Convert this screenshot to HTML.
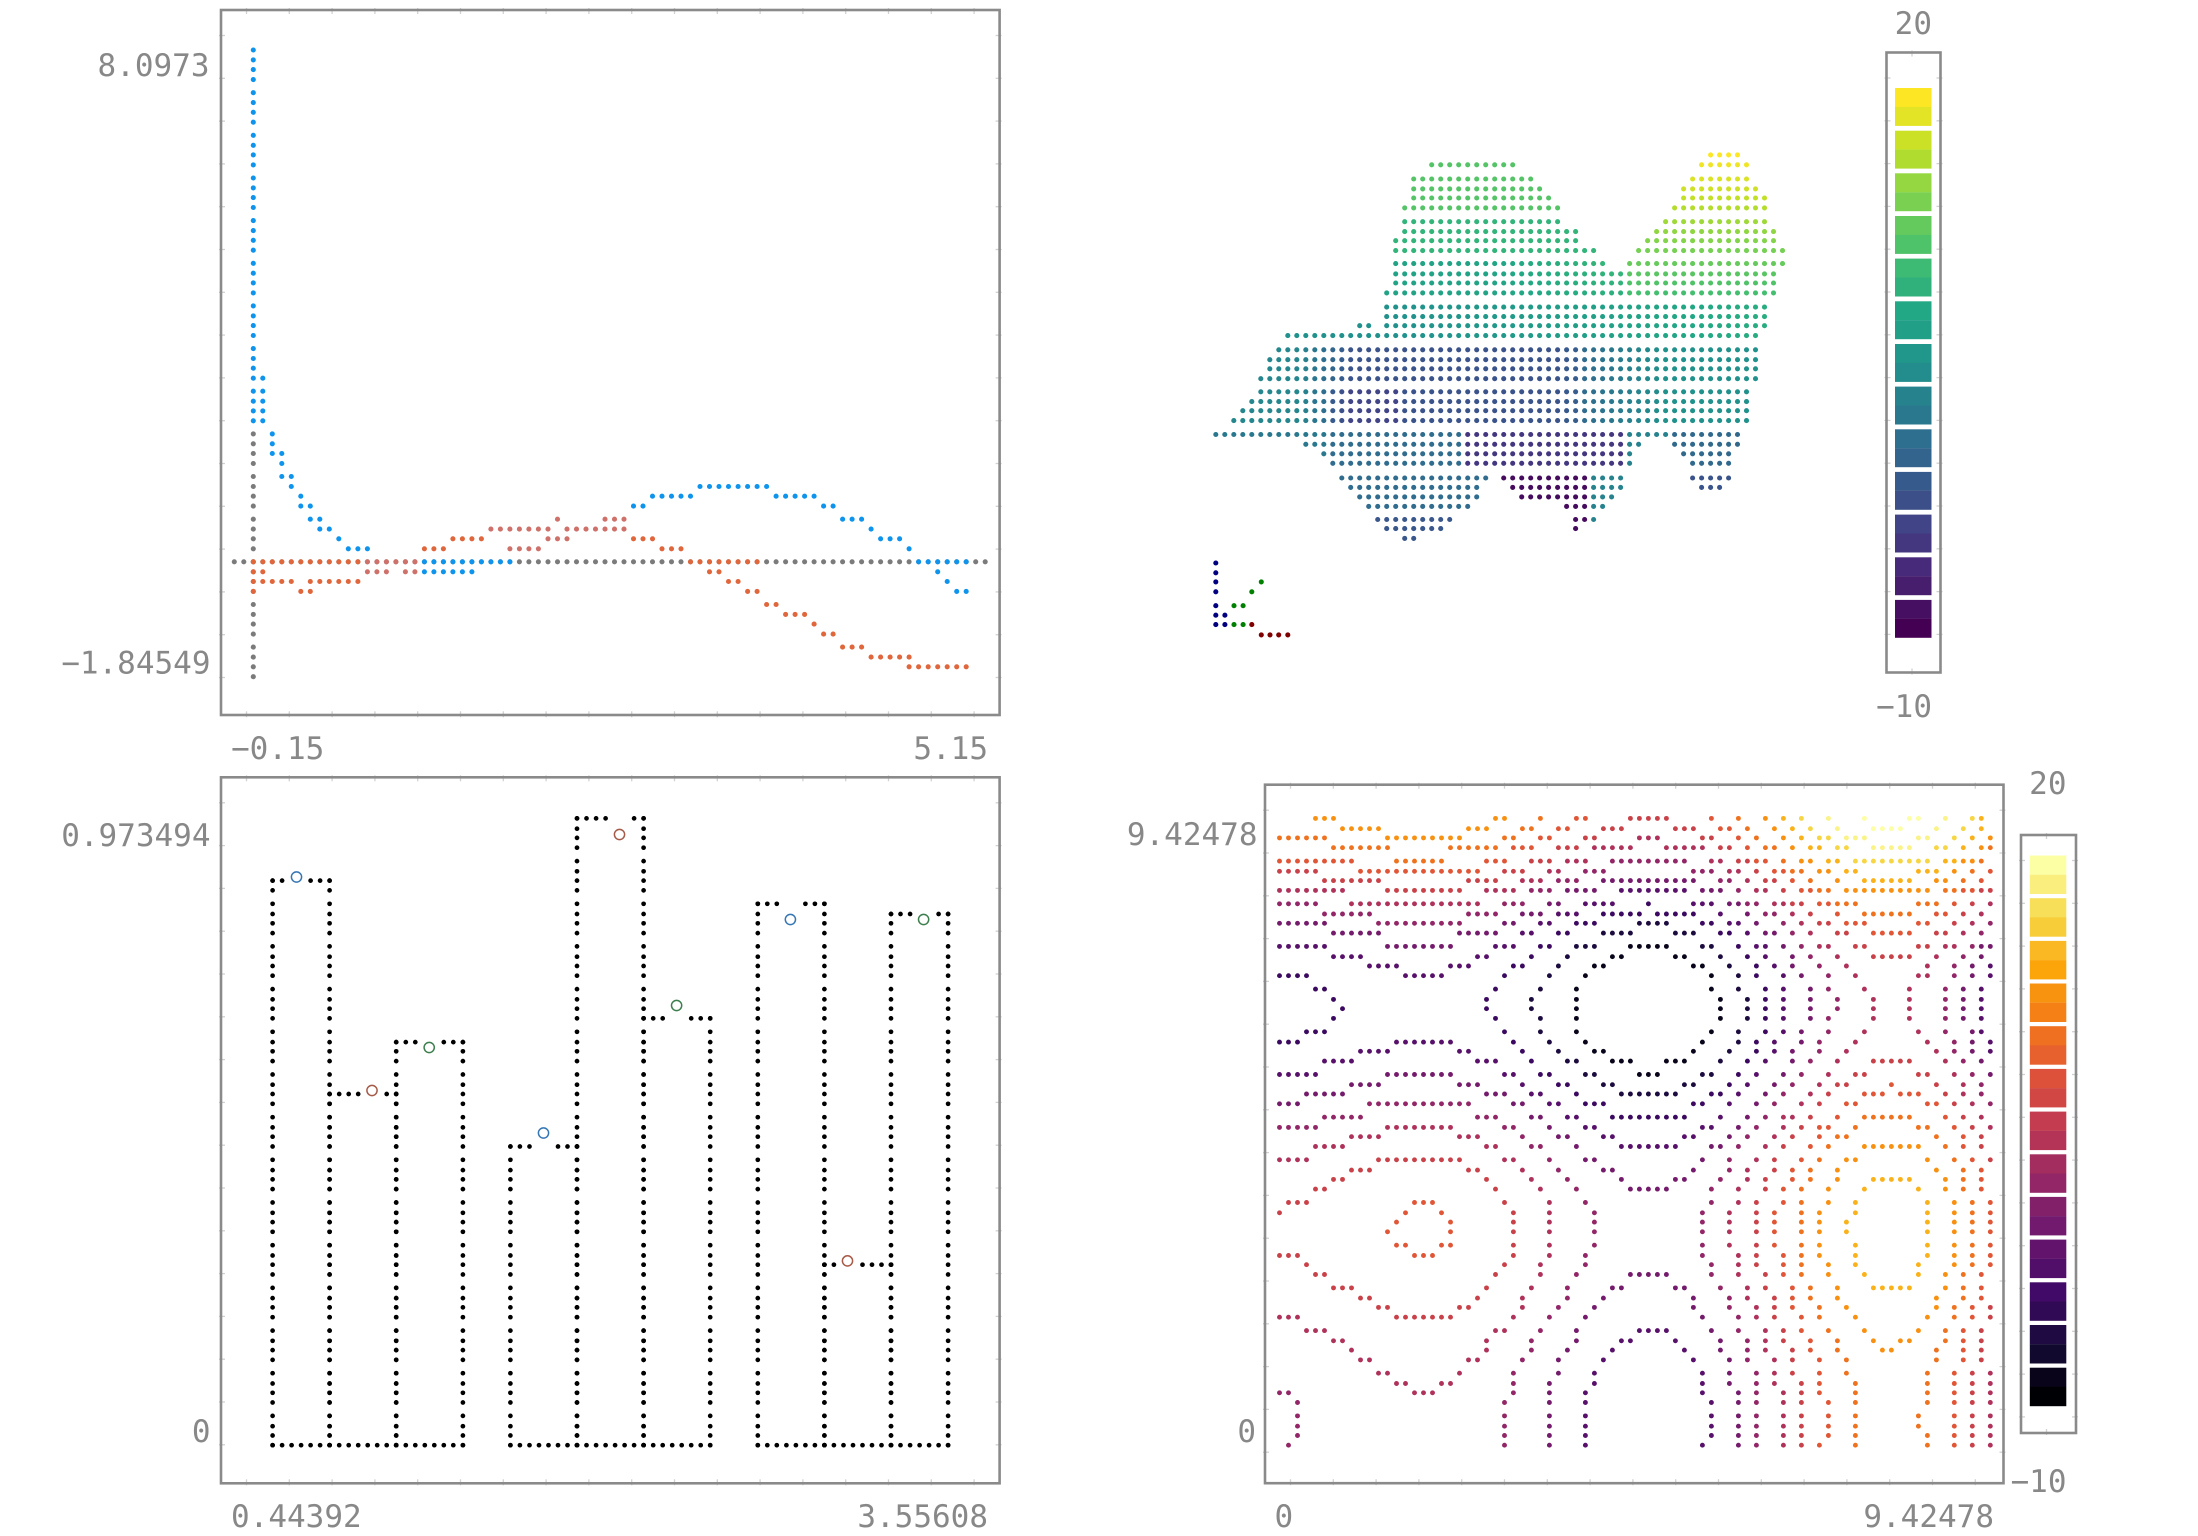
<!DOCTYPE html>
<html><head><meta charset="utf-8">
<style>
html,body{margin:0;padding:0;background:#fff;}
svg{display:block;}
text{font-family:"DejaVu Sans Mono","Liberation Mono",monospace;font-size:31px;fill:#888;}
</style></head>
<body>
<svg id="s" width="2198" height="1536" viewBox="0 0 2198 1536" xmlns="http://www.w3.org/2000/svg">
<rect x="0" y="0" width="2198" height="1536" fill="#fff"/>
<g id="ticks" stroke="#d2d2d2" stroke-width="1.3"></g>
<g fill="none" stroke="#8a8a8a" stroke-width="2.6">
<rect x="221" y="10" width="778.6" height="705"/>
<rect x="221" y="777.3" width="778.6" height="706"/>
<rect x="1265" y="784.7" width="738.5" height="698.5"/>
<rect x="1886.5" y="52.5" width="54" height="620"/>
<rect x="2021" y="835" width="55" height="598"/>
</g>
<g id="dots"></g>
<g id="labels">
<text x="209.5" y="76" text-anchor="end">8.0973</text>
<text x="210.5" y="673.5" text-anchor="end">−1.84549</text>
<text x="231" y="759">−0.15</text>
<text x="988" y="759" text-anchor="end">5.15</text>
<text x="210.5" y="846" text-anchor="end">0.973494</text>
<text x="210.5" y="1442" text-anchor="end">0</text>
<text x="231" y="1527">0.44392</text>
<text x="988" y="1527" text-anchor="end">3.55608</text>
<text x="1257.5" y="845" text-anchor="end">9.42478</text>
<text x="1256" y="1442" text-anchor="end">0</text>
<text x="1274.5" y="1527">0</text>
<text x="1994" y="1527" text-anchor="end">9.42478</text>
<text x="1932" y="34" text-anchor="end">20</text>
<text x="1932" y="717" text-anchor="end">−10</text>
<text x="2066.5" y="794" text-anchor="end">20</text>
<text x="2066.5" y="1492" text-anchor="end">−10</text>
</g>
</svg>
<script>
(function(){
var out='';
var tk='';
function dot(x,y,col,r){out+='<circle cx="'+x.toFixed(1)+'" cy="'+y.toFixed(1)+'" r="'+(r||2.5)+'" fill="'+col+'"/>';}
function ring(x,y,col){out+='<circle cx="'+x.toFixed(1)+'" cy="'+y.toFixed(1)+'" r="5.1" fill="none" stroke="'+col+'" stroke-width="1.5"/>';}
function rect(x,y,w,h,col){out+='<rect x="'+x.toFixed(1)+'" y="'+y.toFixed(1)+'" width="'+w.toFixed(1)+'" height="'+h.toFixed(1)+'" fill="'+col+'"/>';}
function hex2rgb(h){return [parseInt(h.slice(1,3),16),parseInt(h.slice(3,5),16),parseInt(h.slice(5,7),16)];}
function cmap(stops,t){t=Math.max(0,Math.min(1,t));var n=stops.length-1;var i=Math.min(n-1,Math.floor(t*n));var f=t*n-i;var a=hex2rgb(stops[i]),b=hex2rgb(stops[i+1]);var o=[];for(var j=0;j<3;j++)o.push(Math.round(a[j]+(b[j]-a[j])*f));return 'rgb('+o.join(',')+')';}
var VIR=['#440154','#482475','#414487','#355f8d','#2a788e','#21918c','#22a884','#44bf70','#7ad151','#bddf26','#fde725'];
var INF=['#000004','#160b39','#420a68','#6a176e','#932667','#bc3754','#dd513a','#f37819','#fca50a','#f6d746','#fcffa4'];

/* ticks */
function tline(x1,y1,x2,y2){tk+='<line x1="'+x1.toFixed(1)+'" y1="'+y1.toFixed(1)+'" x2="'+x2.toFixed(1)+'" y2="'+y2.toFixed(1)+'"/>';}
function ticks(x0,y0,x1,y1,sp,off){
  for(var y=y0+off;y<y1-4;y+=sp){tline(x0-2,y,x0+4,y);tline(x1-4,y,x1+2,y);}
  for(var x=x0+off;x<x1-4;x+=sp){tline(x,y0-2,x,y0+4);tline(x,y1-4,x,y1+2);}
}
ticks(221,10,999.6,715.3,42.8,25.5);
ticks(221,777.3,999.6,1483.3,42.8,25.5);
ticks(1265,784.7,2003.5,1483.2,42.8,25.5);
ticks(1886.5,52.5,1940.5,672.5,42.8,25.5);
ticks(2021,835,2076,1433,42.8,25.5);
document.getElementById('ticks').innerHTML=tk;

/* ---------- Panel 1 ---------- */
var S=0.5102;
function p1x(c){return 220+S*(28+18.63*c);}
var s1=[0,19.5,38.5,58];
function p1y(r){return S*(98+83.6*Math.floor(r/4)+s1[r%4]);}
function run(c0,c1,r0,r1,col){for(var c=c0;c<=c1;c++)for(var r=r0;r<=r1;r++)dot(p1x(c),p1y(r),col,2.55);}
var G='#7b7b7b',B='#0e94ec',O='#e0663c',P='#cf716b';
run(0,79,48,48,G);run(2,2,36,59,G);
var blue=[[2,2,0,35],[3,3,31,35],[4,4,36,38],[5,5,38,40],[6,6,40,41],[7,7,42,43],[8,8,43,44],[9,9,44,45],[10,10,45,45],[11,11,46,46],[12,14,47,47],[20,25,48,49],[26,29,48,48],[42,43,43,43],[44,48,42,42],[49,56,41,41],[57,61,42,42],[62,63,43,43],[64,66,44,44],[67,67,45,45],[68,70,46,46],[71,71,47,47],[72,77,48,48],[74,74,49,49],[75,75,50,50],[76,77,51,51]];
blue.forEach(function(a){run(a[0],a[1],a[2],a[3],B);});
var orn=[[2,13,48,48],[2,3,49,49],[2,6,50,50],[8,13,50,50],[2,2,51,51],[7,8,51,51],[20,22,47,47],[23,26,46,46],[42,44,46,46],[45,47,47,47],[48,55,48,48],[50,51,49,49],[52,53,50,50],[54,55,51,51],[56,57,52,52],[58,60,53,53],[61,61,54,54],[62,63,55,55],[64,66,56,56],[67,71,57,57],[71,77,58,58]];
orn.forEach(function(a){run(a[0],a[1],a[2],a[3],O);});
var pnk=[[14,19,48,48],[14,16,49,49],[18,19,49,49],[27,33,45,45],[29,32,47,47],[34,34,44,44],[33,35,46,46],[35,41,45,45],[39,41,44,44]];
pnk.forEach(function(a){run(a[0],a[1],a[2],a[3],P);});

/* ---------- Panel 2 (3D) ---------- */
var S2=0.3954;
var rows2=[[63,[[55,58]]],[88,[[24,33],[54,59]]],[124,[[22,35],[53,59]]],[149,[[22,36],[52,60]]],[172,[[22,37],[52,61]]],[197,[[21,38],[51,61]]],[232,[[21,38],[50,61]]],[257,[[21,40],[49,62]]],[280,[[20,40],[48,62]]],[305,[[20,42],[47,63]]],[338,[[20,43],[46,63]]],[364,[[20,62]]],[387,[[20,62]]],[412,[[19,62]]],[448,[[19,61]]],[472,[[19,61]]],[495,[[16,17],[19,61]]],[520,[[8,60]]],[556,[[7,60]]],[581,[[6,60]]],[604,[[6,60]]],[629,[[5,60]]],[662,[[5,59]]],[687,[[4,59]]],[710,[[3,59]]],[735,[[2,59]]],[770,[[0,58]]],[795,[[10,47],[51,58]]],[819,[[12,46],[52,57]]],[843,[[13,46],[53,57]]],[880,[[14,30],[32,45],[53,57]]],[904,[[15,29],[33,45],[54,56]]],[928,[[16,29],[34,44]]],[952,[[17,28],[39,43]]],[985,[[18,26],[40,42]]],[1008,[[19,25],[40,40]]],[1033,[[21,22]]]];
function t2(k,Y){
  if(Y<=420){
    var left=Y<210?0.73:(Y<320?0.65:0.58);
    var right=1.0-(Y-63)/(412-63)*0.3;
    if(k>=46)return right;
    if(Y<=320)return left;
    var f=Math.max(0,Math.min(1,(k-30)/32));
    return left+(right-left)*f;
  }
  if(Y<=530){var f2=Math.max(0,Math.min(1,(k-20)/41));return 0.5+0.12*f2;}
  if(Y<=740){
    var b;
    if(k<9)b=0;else if(k<15)b=(k-9)/6;else if(k<=38)b=1;else if(k<50)b=1-(k-38)/12;else b=0;
    var edge=k>40?0.5:0.46;
    var deep=(Y>650&&k>=13&&k<=20)?0.26:0.2;
    return edge-deep*b;
  }
  if(Y<=850){
    if(k<=12)return 0.40;
    if(k<=27)return 0.35;
    if(k<=45)return 0.16;
    if(k<=50)return 0.44;
    return 0.34;
  }
  if(k<=30)return Y<970?0.35:0.27;
  if(k<=41)return 0.03;
  if(k<=45)return 0.44;
  return 0.26;
}
rows2.forEach(function(rw){
  var Y=rw[0];
  rw[1].forEach(function(seg){
    for(var k=seg[0];k<=seg[1];k++){
      dot(1200+S2*(40+22.75*k),130+S2*Y,cmap(VIR,t2(k,Y)),2.55);
    }
  });
});
var tri=[[40,1095,'#000080'],[40,1120,'#000080'],[40,1143,'#000080'],[40,1168,'#000080'],[40,1203,'#000080'],[40,1227,'#000080'],[40,1251,'#000080'],[63,1227,'#000080'],[63,1251,'#000080'],
[155,1143,'#008000'],[131,1168,'#008000'],[86,1203,'#008000'],[109,1203,'#008000'],[86,1251,'#008000'],[109,1251,'#008000'],
[131,1251,'#800000'],[155,1277,'#800000'],[177,1277,'#800000'],[199,1277,'#800000'],[222,1277,'#800000']];
tri.forEach(function(a){dot(1200+S2*a[0],130+S2*a[1],a[2],2.55);});

/* colorbar TR */
for(var b=0;b<13;b++){
  for(var h=0;h<2;h++){
    rect(1895,88+42.66*b+h*18.9,36.5,19.0,cmap(VIR,1-(2*b+h)/25));
  }
}
/* colorbar BR */
for(var b2=0;b2<13;b2++){
  for(var h2=0;h2<2;h2++){
    rect(2029.8,855.5+42.68*b2+h2*19.2,36.5,19.3,cmap(INF,1-(2*b2+h2)/25));
  }
}

/* ---------- Bottom row grid ---------- */
var sb=[0,10.26,19.54,29.3];
function yb(r){return 818.4+42.68*Math.floor(r/4)+sb[r%4];}

/* ---------- Panel 3 ---------- */
function x3(c){return 272.55+9.515*c;}
var bars=[[0,6,6,2,3],[6,13,26,10,11],[13,20,21,16,17],[25,32,31,28,29],[32,39,0,36,37],[39,46,19,42,43],[51,58,8,54,55],[58,65,42,60,61],[65,71,9,68,69]];
var K='#000';
bars.forEach(function(bb){
  var c0=bb[0],c1=bb[1],rt=bb[2];
  for(var c=c0;c<=c1;c++){ if(c!==bb[3]&&c!==bb[4]) dot(x3(c),yb(rt),K,2.35); dot(x3(c),yb(59),K,2.35); }
  for(var r=rt;r<=59;r++){ dot(x3(c0),yb(r),K,2.35); dot(x3(c1),yb(r),K,2.35); }
});
var CB='#3677b3',CR='#a65a48',CG='#3d7f4e';
[[296.5,877.0,CB],[372.0,1090.5,CR],[429.2,1047.5,CG],[543.5,1133.0,CB],[619.5,834.5,CR],[676.6,1005.5,CG],[790.4,919.5,CB],[847.5,1260.9,CR],[923.6,919.5,CG]].forEach(function(a){ring(a[0],a[1],a[2]);});

/* ---------- Panel 4 (contours of x sin x - y cos y) ---------- */
var PI3=3*Math.PI;
var xs4=[];for(var c4=0;c4<80;c4++)xs4.push(1279.5+8.998*c4);
var ys4=[];for(var r4=0;r4<60;r4++)ys4.push(yb(r4));
var V=ys4.map(function(Y){return xs4.map(function(X){var xm=(X-1265)/738.5*PI3,ym=(1483.2-Y)/698.5*PI3;return xm*Math.sin(xm)-ym*Math.cos(ym);});});
var levels=[];for(var k=-5;k<=10;k++)levels.push(-0.35+1.75*k);
var mark={};
function cross(r1,c1,r2,c2){
  var a=V[r1][c1],bv=V[r2][c2];var lo=Math.min(a,bv),hi=Math.max(a,bv);
  for(var i=0;i<levels.length;i++){var Lv=levels[i];
    if(Lv>lo&&Lv<=hi){var t=(Lv-a)/(bv-a);var key=t<0.5?(r1+','+c1):(r2+','+c2);mark[key]=Lv;}
  }
}
for(var r=0;r<60;r++)for(var c=0;c<80;c++){
  if(c<79)cross(r,c,r,c+1);
  if(r<59)cross(r,c,r+1,c);
}
for(var key in mark){
  var p=key.split(',');var rr=+p[0],cc=+p[1];
  dot(xs4[cc],ys4[rr],cmap(INF,(mark[key]+10.1)/24.5),2.45);
}

document.getElementById('dots').innerHTML=out;
})();
</script>
</body></html>
